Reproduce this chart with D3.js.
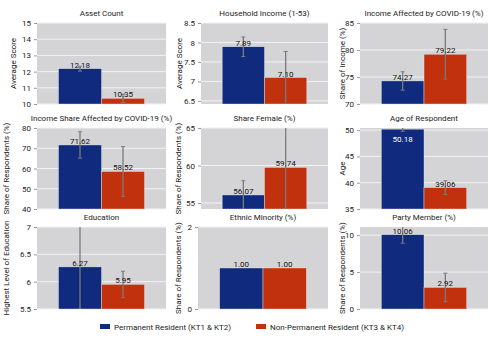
<!DOCTYPE html>
<html>
<head>
<meta charset="utf-8">
<script src="https://cdn.jsdelivr.net/npm/d3@7"></script>
<style>
  body { margin: 0; background: #fff; }
  text { font-family: Roboto, "Noto Sans", sans-serif; fill: #222; }
</style>
</head>
<body>
<script>
var titles = ['Asset Count', 'Household Income (1-53)', 'Income Affected by COVID-19 (%)',
    'Income Share Affected by COVID-19 (%)', 'Share Female (%)', 'Age of Respondent',
    'Education', 'Ethnic Minority (%)', 'Party Member (%)'];
var y_labels = ['Average Score', 'Average Score', 'Share of Income (%)',
    'Share of Respondents (%)', 'Share of Respondents (%)', 'Age',
    'Highest Level of Education', 'Share of Respondents (%)', 'Share of Respondents (%)'];
var groups = ['Permanent Resident (KT1 & KT2)', 'Non-Permanent Resident (KT3 & KT4)'];

var permanent = [12.18, 7.89, 74.27, 71.62, 56.07, 50.18, 6.27, 1.00, 10.06];
var non_permanent = [10.35, 7.10, 79.22, 58.52, 59.74, 39.06, 5.95, 1.00, 2.92];
var permanent_err = [0.15, 0.25, 1.7, 6.5, 1.9, 0.4, 0.77, 0, 1.15];
var non_permanent_err = [0.25, 0.67, 4.6, 12.3, 5.5, 1.3, 0.24, 0, 1.93];

var y_domains = [[10, 15], [6.42, 8.5], [70, 85], [40, 80], [54.2, 65], [35, 50.4], [5.5, 7], [0, 2], [0, 11.1]];
var y_ticks = [[10, 11, 12, 13, 14, 15], [6.5, 7, 7.5, 8, 8.5], [70, 75, 80, 85], [40, 50, 60, 70, 80],
    [55, 60, 65], [35, 40, 45, 50], [5.5, 6, 6.5, 7], [0, 2], [0, 5, 10]];

// layout
var col_x = [[37, 166], [201, 328], [360, 488]];
var row_y = [[23, 104], [128, 209], [227, 309]];
var label_x = [13, 179, 342, 6, 178, 342, 6, 178, 342];
var colors = ['#102b7e', '#c2310d'];

var svg = d3.select('body').append('svg')
    .attr('width', 500)
    .attr('height', 340);

titles.forEach(function(title, i) {
    var col = i % 3, row = Math.floor(i / 3);
    var x0 = col_x[col][0], x1 = col_x[col][1];
    if (i === 7) x0 = 198;
    var y0 = row_y[row][0], y1 = row_y[row][1];

    var x = d3.scaleBand().domain([0, 1]).range([x0, x1]).paddingInner(0).paddingOuter(0.5);
    var y = d3.scaleLinear().domain(y_domains[i]).range([y1, y0]);

    var g = svg.append('g');

    g.append('clipPath').attr('id', 'clip' + i)
        .append('rect').attr('x', x0).attr('y', y0).attr('width', x1 - x0).attr('height', y1 - y0);

    g.append('rect')
        .attr('x', x0).attr('y', y0)
        .attr('width', x1 - x0).attr('height', y1 - y0)
        .attr('fill', '#d4d4d7');

    // gridlines
    g.selectAll('.grid').data(y_ticks[i]).enter().append('line')
        .attr('x1', x0).attr('x2', x1)
        .attr('y1', function(d) { return y(d); })
        .attr('y2', function(d) { return y(d); })
        .attr('stroke', '#f2f2f2').attr('stroke-width', 1);

    var axis = g.append('g')
        .attr('transform', 'translate(' + x0 + ',0)')
        .call(d3.axisLeft(y).tickValues(y_ticks[i]).tickSize(3).tickPadding(3).tickFormat(d3.format('~g')));
    axis.select('.domain').remove();
    axis.selectAll('line').attr('stroke', '#999');
    axis.selectAll('text').style('font-size', '8px').attr('fill', '#222');

    var vals = [permanent[i], non_permanent[i]];
    var errs = [permanent_err[i], non_permanent_err[i]];
    var bars = vals.map(function(v, k) { return { k: k, v: v, e: errs[k] }; });
    var base = y_domains[i][0];

    g.selectAll('.bar').data(bars).enter().append('rect')
        .attr('x', function(d) { return x(d.k); })
        .attr('width', x.bandwidth())
        .attr('y', function(d) { return y(d.v); })
        .attr('height', function(d) { return y(base) - y(d.v); })
        .attr('fill', function(d) { return colors[d.k]; })
        .attr('stroke', '#e8e8ee').attr('stroke-width', 0.4);

    var eb = g.append('g').attr('clip-path', 'url(#clip' + i + ')');
    bars.filter(function(d) { return d.e > 0; }).forEach(function(d) {
        var cx = x(d.k) + x.bandwidth() / 2;
        eb.append('line')
            .attr('x1', cx).attr('x2', cx)
            .attr('y1', y(d.v + d.e)).attr('y2', y(d.v - d.e))
            .attr('stroke', '#7a7a7a').attr('stroke-width', 1.3);
        [d.v + d.e, d.v - d.e].forEach(function(t) {
            eb.append('line')
                .attr('x1', cx - 2).attr('x2', cx + 2)
                .attr('y1', y(t)).attr('y2', y(t))
                .attr('stroke', '#7a7a7a').attr('stroke-width', 1);
        });
    });

    function inside(d) { return y(d.v) - 5 < y0; }

    g.selectAll('.val').data(bars).enter().append('text')
        .attr('x', function(d) { return x(d.k) + x.bandwidth() / 2; })
        .attr('y', function(d) { return inside(d) ? y(d.v) + 13 : y(d.v) - 1; })
        .attr('text-anchor', 'middle')
        .style('font-size', '8px')
        .style('fill', function(d) { return inside(d) ? '#fff' : '#111'; })
        .text(function(d) { return d3.format('.2f')(d.v); });

    g.append('text')
        .attr('x', (x0 + x1) / 2)
        .attr('y', y0 - 7)
        .attr('text-anchor', 'middle')
        .style('font-size', '8px')
        .text(title);

    g.append('text')
        .attr('transform', 'translate(' + label_x[i] + ',' + ((y0 + y1) / 2) + ') rotate(-90)')
        .attr('text-anchor', 'middle')
        .attr('dy', '0.35em')
        .style('font-size', '8px')
        .text(y_labels[i]);
});

// legend
var legend_x = [100, 256];
groups.forEach(function(name, k) {
    svg.append('rect')
        .attr('x', legend_x[k]).attr('y', 324)
        .attr('width', 10).attr('height', 5)
        .attr('fill', colors[k]);
    svg.append('text')
        .attr('x', legend_x[k] + 14).attr('y', 329.5)
        .style('font-size', '8px')
        .text(name);
});
</script>
</body>
</html>
